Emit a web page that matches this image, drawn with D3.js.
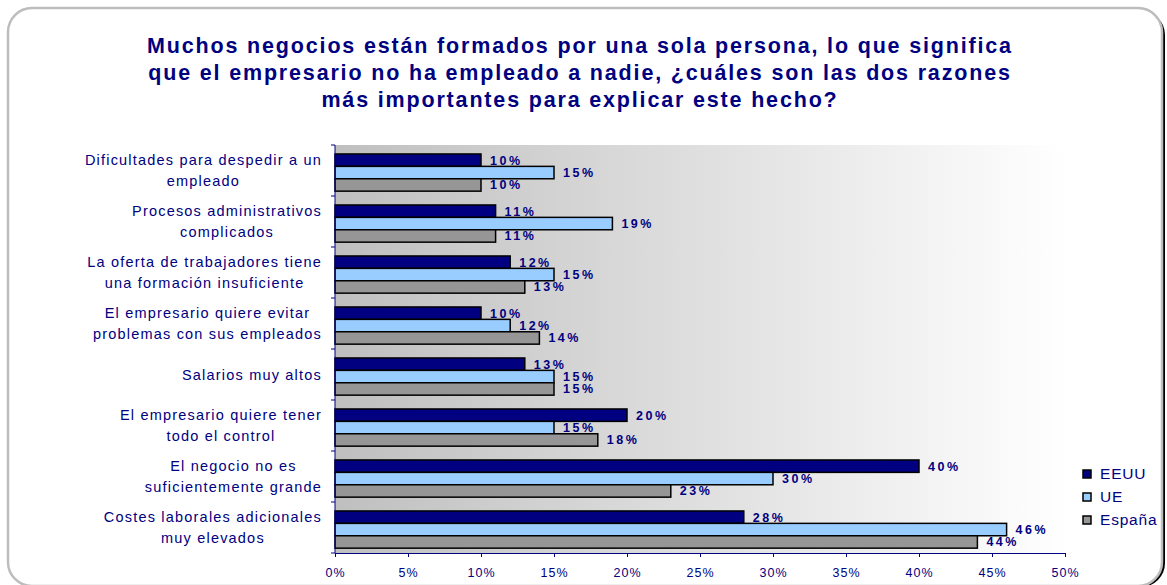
<!DOCTYPE html>
<html>
<head>
<meta charset="utf-8">
<script src="https://cdn.jsdelivr.net/npm/d3@7/dist/d3.min.js"></script>
<style>
  html, body { margin: 0; padding: 0; background: #ffffff; }
  svg { display: block; font-family: "Liberation Sans", Arial, sans-serif; }
</style>
</head>
<body>
<script>
const titleLines = [
  "Muchos negocios están formados por una sola persona, lo que significa",
  "que el empresario no ha empleado a nadie, ¿cuáles son las dos razones",
  "más importantes para explicar este hecho?"
];
const categories = [
  "Dificultades para despedir a un\nempleado",
  "Procesos administrativos\ncomplicados",
  "La oferta de trabajadores tiene\nuna formación insuficiente",
  "El empresario quiere evitar\nproblemas con sus empleados",
  "Salarios muy altos",
  "El empresario quiere tener\ntodo el control",
  "El negocio no es\nsuficientemente grande",
  "Costes laborales adicionales\nmuy elevados"
];
const seriesNames = ["EEUU", "UE", "España"];
const eeuu   = [10, 11, 12, 10, 13, 20, 40, 28];
const ue     = [15, 19, 15, 12, 15, 15, 30, 46];
const espana = [10, 11, 13, 14, 15, 18, 23, 44];
const xTicks = [0, 5, 10, 15, 20, 25, 30, 35, 40, 45, 50];

const seriesValues = [eeuu, ue, espana];
const seriesColors = ["#000080", "#99ccff", "#969696"];
const navy = "#000080";

const W = 1167, H = 585;
const plot = { left: 335, right: 1065, top: 145, bottom: 553 };

const svg = d3.select("body").append("svg").attr("width", W).attr("height", H);

// frame with shadow
svg.append("rect").attr("x", 11).attr("y", 11).attr("width", 1154).attr("height", 576)
  .attr("rx", 24).attr("fill", "#000");
svg.append("rect").attr("x", 8).attr("y", 8).attr("width", 1154).attr("height", 578)
  .attr("rx", 24).attr("fill", "#fff").attr("stroke", "#bdbdbd").attr("stroke-width", 2.5);

// title
const title = svg.append("g");
const tl = title.selectAll("text").data(titleLines).enter().append("text")
  .attr("x", 580).attr("y", (d, i) => 53 + i * 27)
  .attr("text-anchor", "middle")
  .attr("font-size", 21.5).attr("font-weight", "bold").attr("fill", navy)
  .text(d => d);
// fit letter-spacing so first line width matches reference
(function () {
  const n0 = tl.nodes()[0];
  const w0 = n0.getComputedTextLength();
  const ls = (864 - w0) / (titleLines[0].length - 1);
  tl.attr("letter-spacing", ls.toFixed(2) + "px");
})();

// gradient
const defs = svg.append("defs");
const grad = defs.append("linearGradient").attr("id", "bg").attr("x1", 0).attr("x2", 1).attr("y1", 0).attr("y2", 0);
grad.append("stop").attr("offset", 0).attr("stop-color", "#bfbfbf");
grad.append("stop").attr("offset", 1).attr("stop-color", "#ffffff");

svg.append("rect").attr("x", plot.left).attr("y", plot.top)
  .attr("width", plot.right - plot.left).attr("height", plot.bottom - plot.top)
  .attr("fill", "url(#bg)");

// scales
const x = d3.scaleLinear().domain([0, 50]).range([plot.left, plot.right]);
const y = d3.scaleBand().domain(d3.range(categories.length)).range([plot.top, plot.bottom]).padding(0);
const bw = y.bandwidth();
const inner = d3.scaleBand().domain(d3.range(seriesNames.length)).range([bw * 0.176, bw * 0.905]).padding(0);

// bars
seriesNames.forEach((s, si) => {
  const g = svg.append("g");
  g.selectAll("rect").data(seriesValues[si]).enter().append("rect")
    .attr("x", x(0))
    .attr("y", (d, i) => y(i) + inner(si))
    .attr("width", d => x(d) - x(0))
    .attr("height", inner.bandwidth())
    .attr("fill", seriesColors[si])
    .attr("stroke", "#000").attr("stroke-width", 1.5);
});

// value labels
seriesNames.forEach((s, si) => {
  svg.append("g").selectAll("text").data(seriesValues[si]).enter().append("text")
    .attr("x", d => x(d) + 9)
    .attr("y", (d, i) => y(i) + inner(si) + inner.bandwidth() / 2 + 4.5)
    .attr("font-size", 12.5).attr("font-weight", "bold").attr("fill", navy)
    .attr("letter-spacing", "2.5px")
    .text(d => d + "%");
});

// left axis
const yAxisG = svg.append("g");
yAxisG.append("line").attr("x1", plot.left).attr("x2", plot.left)
  .attr("y1", plot.top).attr("y2", plot.bottom).attr("stroke", navy).attr("stroke-width", 1);
const bounds = d3.range(categories.length + 1).map(i => i < categories.length ? y(i) : plot.bottom);
yAxisG.selectAll("line.t").data(bounds).enter().append("line").attr("class", "t")
  .attr("x1", plot.left - 4).attr("x2", plot.left).attr("y1", d => d).attr("y2", d => d)
  .attr("stroke", navy).attr("stroke-width", 1);

// bottom axis
const xAxisG = svg.append("g").attr("transform", `translate(0,${plot.bottom})`)
  .call(d3.axisBottom(x).tickValues(xTicks).tickSize(4).tickSizeOuter(0).tickFormat(d => d + "%").tickPadding(11));
xAxisG.select(".domain").attr("stroke", navy);
xAxisG.selectAll(".tick line").attr("stroke", navy);
xAxisG.selectAll(".tick text").attr("fill", navy).attr("font-size", 12.5)
  .attr("font-family", "Liberation Sans, Arial, sans-serif").attr("letter-spacing", "1px");

// category labels
const catG = svg.append("g");
categories.forEach((c, i) => {
  const lines = c.split("\n");
  const g = catG.append("g");
  const cy = y(i) + bw / 2;
  const texts = g.selectAll("text").data(lines).enter().append("text")
    .attr("y", (d, j) => cy + (j - (lines.length - 1) / 2) * 21 + 5)
    .attr("text-anchor", "middle")
    .attr("font-size", 14.5).attr("fill", navy).attr("letter-spacing", "1.2px")
    .text(d => d);
  const maxW = d3.max(texts.nodes(), n => n.getComputedTextLength());
  texts.attr("x", 322 - maxW / 2);
});

// legend
const leg = svg.append("g");
seriesNames.forEach((s, si) => {
  leg.append("rect").attr("x", 1083).attr("y", 470 + si * 23).attr("width", 8).attr("height", 8)
    .attr("fill", seriesColors[si]).attr("stroke", "#000").attr("stroke-width", 1.5);
  leg.append("text").attr("x", 1100).attr("y", 479 + si * 23)
    .attr("font-size", 15.5).attr("fill", navy).attr("letter-spacing", "0.8px").text(s);
});
</script>
</body>
</html>
